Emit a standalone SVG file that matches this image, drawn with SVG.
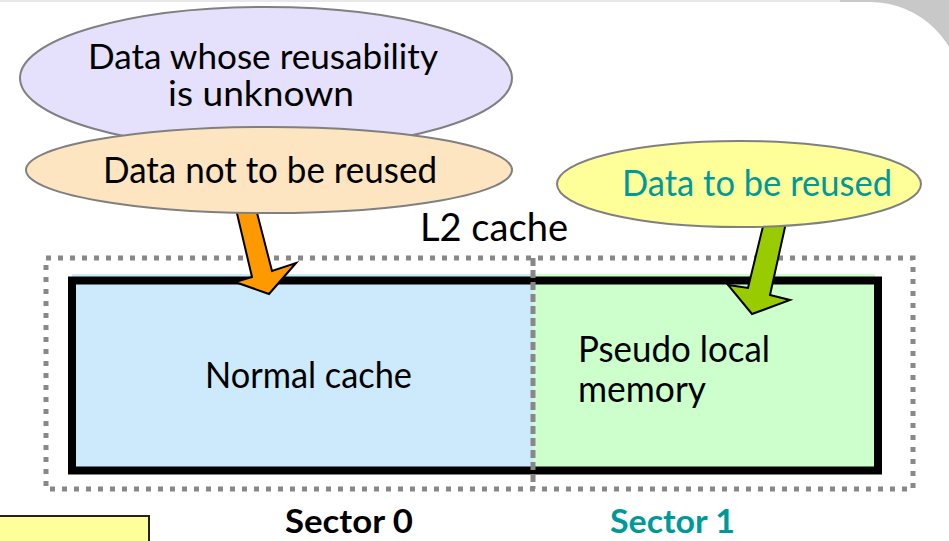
<svg xmlns="http://www.w3.org/2000/svg" width="949" height="541" viewBox="0 0 949 541">
<style>
.lbl{font-family:Lato,"Noto Sans","Liberation Sans",sans-serif;font-size:36px;fill:#000}
.two{font-size:34px}
.teal{fill:#009999}
.sec{font-family:Lato,"Noto Sans","Liberation Sans",sans-serif;font-size:33px;font-weight:bold}
.ell{stroke:#808080;stroke-width:2}
.arrow{stroke:#000;stroke-width:2;stroke-linejoin:miter}
.dots{fill:none;stroke:#888;stroke-width:5}
</style>
<g id="background">
<rect x="0" y="0" width="949" height="541" fill="#e8e8e8"/>
<rect x="840" y="0" width="109" height="110" fill="#c8c8c8"/>
<path d="M0,2 H870 A92,92 0 0 1 962,94 V541 H0 Z" fill="#ffffff"/>
</g>
<g id="l2cache">
<rect x="72" y="274" width="461" height="196" fill="#cdeafd"/>
<rect x="533" y="274" width="342" height="196" fill="#ccffcc"/>
<rect x="46" y="258" width="867" height="231" class="dots" stroke-dasharray="5 7"/>
<rect x="72" y="280.5" width="806" height="190" fill="none" stroke="#000" stroke-width="8"/>
<line x1="533" y1="258" x2="533" y2="489" stroke="#888" stroke-width="5" stroke-dasharray="8 4"/>
<text class="lbl" x="420" y="241" style="font-size:38px" textLength="148" lengthAdjust="spacingAndGlyphs">L2 cache</text>
</g>
<g id="normal-cache">
<text class="lbl" x="205" y="388" textLength="207" lengthAdjust="spacingAndGlyphs">Normal cache</text>
</g>
<g id="pseudo-local-memory">
<text class="lbl" x="578" y="362" textLength="192" lengthAdjust="spacingAndGlyphs">Pseudo local</text>
<text class="lbl" x="578" y="402" textLength="128" lengthAdjust="spacingAndGlyphs">memory</text>
</g>
<g id="connectors">
<path class="arrow" fill="#ff9900" d="M235,205 L252,277 L235,282 L269,294 L296,263 L272,271 L255,205 Z"/>
<path class="arrow" fill="#99cc00" d="M765,218 L748,288 L728,285 L752,314 L790,300 L770,295 L787,218 Z"/>
</g>
<g id="data-unknown">
<ellipse class="ell" cx="266" cy="78" rx="246" ry="71" fill="#e5e0fb"/>
<text class="lbl two" x="88" y="69" textLength="350" lengthAdjust="spacingAndGlyphs">Data whose reusability</text>
<text class="lbl two" x="168" y="106" textLength="186" lengthAdjust="spacingAndGlyphs">is unknown</text>
</g>
<g id="data-not-reused">
<ellipse class="ell" cx="269" cy="170" rx="243" ry="43" fill="#fde5c1"/>
<text class="lbl" x="103" y="183" textLength="334" lengthAdjust="spacingAndGlyphs">Data not to be reused</text>
</g>
<g id="data-reused">
<ellipse class="ell" cx="739" cy="184" rx="182" ry="43" fill="#ffff99"/>
<text class="lbl teal" x="622" y="196" textLength="270" lengthAdjust="spacingAndGlyphs">Data to be reused</text>
</g>
<g id="sector0">
<text class="sec" x="285" y="533" fill="#000" textLength="128" lengthAdjust="spacingAndGlyphs">Sector 0</text>
</g>
<g id="sector1">
<text class="sec teal" x="610" y="533" textLength="125" lengthAdjust="spacingAndGlyphs">Sector 1</text>
</g>
<g id="note-box">
<rect x="-2" y="516" width="151" height="40" fill="#ffff99" stroke="#222" stroke-width="2"/>
</g>
</svg>
